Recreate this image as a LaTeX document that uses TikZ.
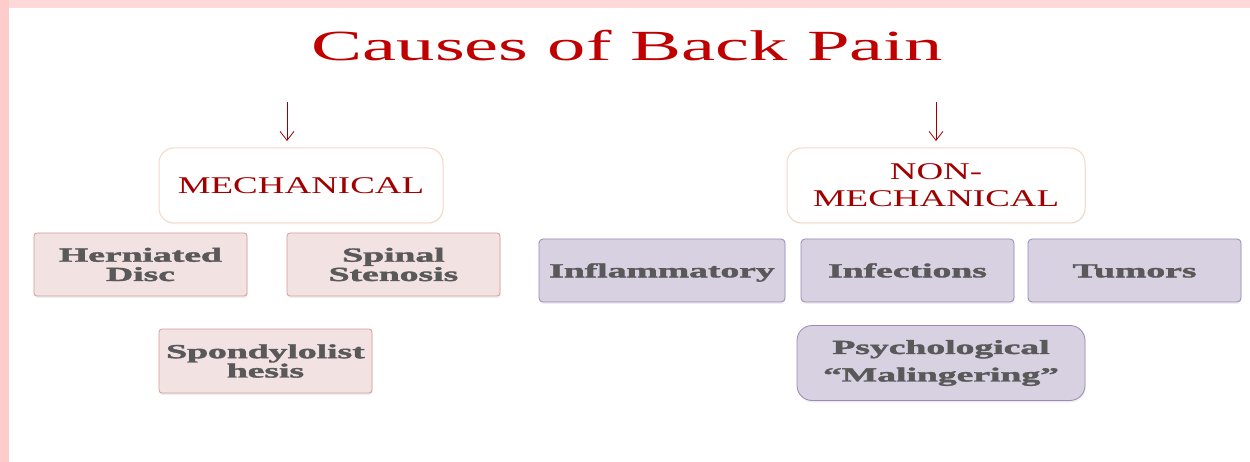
\documentclass[tikz,border=0pt]{standalone}
\usepackage{fontspec}
\setmainfont{Liberation Serif}[BoldFeatures={FakeBold=1.6}]
\usepackage{graphicx}
\usetikzlibrary{arrows.meta,shadows}
\definecolor{pinktop}{HTML}{FFD9D9}
\definecolor{pinkleft}{HTML}{FFCCCC}
\definecolor{titlered}{HTML}{C00000}
\definecolor{headred}{HTML}{A00000}
\definecolor{headborder}{HTML}{F3D8C6}
\definecolor{pinkfill}{HTML}{F2E2E2}
\definecolor{pinkborder}{HTML}{D99A9A}
\definecolor{lilacfill}{HTML}{D7D1E1}
\definecolor{lilacborder}{HTML}{9B88B8}
\definecolor{boxtext}{HTML}{595959}
\newcommand{\tx}[1]{\scalebox{1.78}[1]{#1}}
\newcommand{\hx}[1]{\scalebox{1.54}[1]{#1}}
\newcommand{\bx}[1]{\scalebox{1.88}[1]{#1}}
\begin{document}
\begin{tikzpicture}[x=1pt,y=-1pt,
  headbox/.style={draw=headborder,fill=white,line width=1pt,rounded corners=15pt,
    inner sep=0pt,align=center,text=headred,
    font=\fontsize{24}{27}\selectfont,
    drop shadow={opacity=0.06,shadow xshift=0.5pt,shadow yshift=-1.5pt}},
  subbox/.style={line width=0.8pt,inner sep=0pt,align=center,text=boxtext,
    font=\fontsize{20}{19.3}\selectfont\bfseries,
    drop shadow={opacity=0.12,shadow xshift=0.6pt,shadow yshift=-2pt}},
  pinkbox/.style={subbox,draw=pinkborder,fill=pinkfill,rounded corners=3pt},
  lilacbox/.style={subbox,draw=lilacborder,fill=lilacfill,rounded corners=4pt},
  oneline/.style={text height=13.7pt,text depth=0pt},
  arr/.style={draw=headred,line width=0.8pt,-{Straight Barb[length=9pt,width=14pt]}}
]
\useasboundingbox (0,0) rectangle (1250,462);
\fill[white] (0,0) rectangle (1250,462);
\fill[pinktop] (0,0) rectangle (1250,8.5);
\fill[pinkleft] (0,0) rectangle (9,462);

% title
\node[anchor=base,text=titlered,inner sep=0pt,font=\fontsize{43}{48}\selectfont]
  (title) at (627.5,61) {\tx{Causes of Back Pain}};

% arrows
\coordinate (la1) at (287,102);
\coordinate (la2) at (287,141);
\coordinate (ra1) at (936,102);
\coordinate (ra2) at (936,141);
\draw[arr] (la1) -- (la2);
\draw[arr] (ra1) -- (ra2);

% headers
\node[headbox,minimum width=284pt,minimum height=75pt] (mech) at (301,185.5)
  {\hx{MECHANICAL}};
\node[headbox,minimum width=298pt,minimum height=75pt] (nonmech) at (936,185.5)
  {\hx{NON-}\\\hx{MECHANICAL}};

% mechanical causes
\node[pinkbox,minimum width=213pt,minimum height=63pt] (hern) at (140.5,264.5)
  {\bx{Herniated}\\\bx{Disc}};
\node[pinkbox,minimum width=213pt,minimum height=63pt] (spinal) at (393.5,264.5)
  {\bx{Spinal}\\\bx{Stenosis}};
\node[pinkbox,minimum width=213pt,minimum height=64pt] (spondy) at (265.5,361)
  {\bx{Spondylolist}\\\bx{hesis}};

% non-mechanical causes
\node[lilacbox,oneline,minimum width=246pt,minimum height=63pt] (inflam) at (662,270.5)
  {\bx{Inflammatory}};
\node[lilacbox,oneline,minimum width=213pt,minimum height=63pt] (infect) at (907.5,270.5)
  {\bx{Infections}};
\node[lilacbox,oneline,minimum width=213pt,minimum height=63pt] (tumor) at (1134.5,270.5)
  {\bx{Tumors}};
\node[lilacbox,rounded corners=15pt,minimum width=288pt,minimum height=75pt,
  font=\fontsize{20}{27.5}\selectfont\bfseries] (psych) at (941,363)
  {\bx{Psychological}\\\bx{“Malingering”}};
\end{tikzpicture}
\end{document}
